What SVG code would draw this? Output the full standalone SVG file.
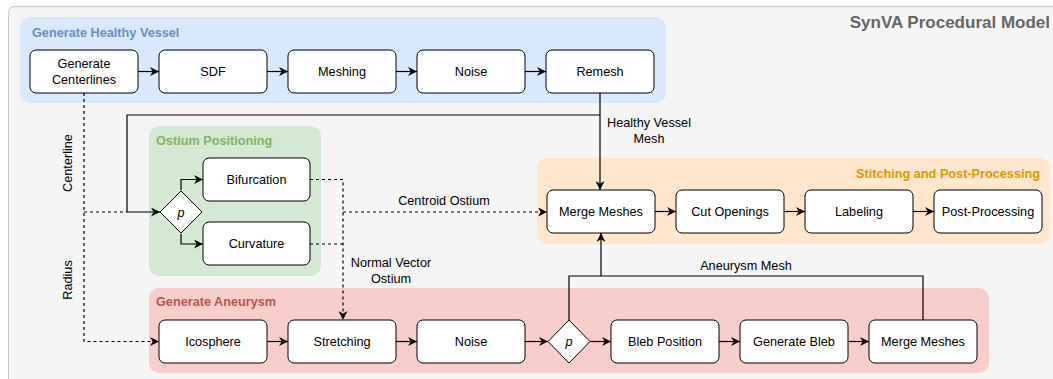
<svg xmlns="http://www.w3.org/2000/svg" width="1053" height="379" viewBox="0 0 1053 379">
<style>
text{font-family:"Liberation Sans",Arial,sans-serif;font-size:12.7px;fill:#000}
.t{text-anchor:middle}
.gt{font-weight:bold}
.n{fill:#fff;stroke:#000;stroke-width:1}
.c{fill:none;stroke:#000;stroke-width:1.2}
.d{stroke-dasharray:3,3}
</style>
<defs>
<marker id="a" viewBox="0 0 10 10" refX="10" refY="5" markerWidth="9" markerHeight="9" markerUnits="userSpaceOnUse" orient="auto">
<path d="M0,0 L10,5 L0,10 L3,5 Z" fill="#000"/>
</marker>
</defs>
<rect x="8.5" y="6.5" width="1060" height="390" rx="6" fill="#f5f5f5" stroke="#c8c8c8"/>
<text x="1050" y="28" style="font-size:17px;font-weight:bold;fill:#666;text-anchor:end">SynVA Procedural Model</text>

<g id="grp-healthy">
<rect x="20" y="17" width="646" height="86" rx="10" fill="#dae8fc"/>
<text class="gt" x="32" y="37" style="fill:#6c8ebf">Generate Healthy Vessel</text>
</g>
<g id="grp-ostium">
<rect x="149" y="126" width="172" height="150" rx="10" fill="#d5e8d4"/>
<text class="gt" x="156" y="145" style="fill:#82b366">Ostium Positioning</text>
</g>
<g id="grp-stitch">
<rect x="537" y="158" width="513" height="86" rx="10" fill="#ffe6cc"/>
<text class="gt" x="1040" y="178" style="fill:#d79b00;text-anchor:end">Stitching and Post-Processing</text>
</g>
<g id="grp-aneurysm">
<rect x="149" y="288" width="840" height="85" rx="10" fill="#f8cecc"/>
<text class="gt" x="156" y="306" style="fill:#b85450">Generate Aneurysm</text>
</g>

<g id="connectors">
<path class="c" d="M138,71.5 H159" marker-end="url(#a)"/>
<path class="c" d="M267,71.5 H288" marker-end="url(#a)"/>
<path class="c" d="M396,71.5 H417" marker-end="url(#a)"/>
<path class="c" d="M525,71.5 H546" marker-end="url(#a)"/>
<path class="c" d="M600,93 V190" marker-end="url(#a)"/>
<path class="c" d="M600,115 H127 V212 H160" marker-end="url(#a)"/>
<path class="c d" d="M84,93 V341.5 H159" marker-end="url(#a)"/>
<path class="c d" d="M84,212 H127"/>
<path class="c" d="M181,190 V179.5 H203" marker-end="url(#a)"/>
<path class="c" d="M181,234 V244 H203" marker-end="url(#a)"/>
<path class="c d" d="M310,179.5 H343 V320" marker-end="url(#a)"/>
<path class="c d" d="M310,244 H343"/>
<path class="c d" d="M343,212 H547" marker-end="url(#a)"/>
<path class="c" d="M655,211.5 H676" marker-end="url(#a)"/>
<path class="c" d="M784,211.5 H805" marker-end="url(#a)"/>
<path class="c" d="M913,211.5 H934" marker-end="url(#a)"/>
<path class="c" d="M267,341.5 H288" marker-end="url(#a)"/>
<path class="c" d="M396,341.5 H417" marker-end="url(#a)"/>
<path class="c" d="M525,341.5 H548" marker-end="url(#a)"/>
<path class="c" d="M590,341.5 H611" marker-end="url(#a)"/>
<path class="c" d="M719,341.5 H740" marker-end="url(#a)"/>
<path class="c" d="M848,341.5 H869" marker-end="url(#a)"/>
<path class="c" d="M569,320 V276 H923 V320"/>
<path class="c" d="M601,276 V233" marker-end="url(#a)"/>
<text x="67" y="163" class="t" transform="rotate(-90 67 163)" dy="4.5">Centerline</text>
<text x="67" y="280" class="t" transform="rotate(-90 67 280)" dy="4.5">Radius</text>
<text x="649" y="127" class="t">Healthy Vessel</text>
<text x="649" y="143" class="t">Mesh</text>
<text x="444" y="205" class="t">Centroid Ostium</text>
<text x="391" y="267" class="t">Normal Vector</text>
<text x="391" y="283" class="t">Ostium</text>
<text x="746" y="270" class="t">Aneurysm Mesh</text>
</g>

<g id="n-centerlines"><rect class="n" x="30" y="50" width="108" height="43" rx="6"/><text class="t" x="84" y="67.5">Generate</text><text class="t" x="84" y="83.5">Centerlines</text></g>
<g id="n-sdf"><rect class="n" x="159" y="50" width="108" height="43" rx="6"/><text class="t" x="213" y="76">SDF</text></g>
<g id="n-meshing"><rect class="n" x="288" y="50" width="108" height="43" rx="6"/><text class="t" x="342" y="76">Meshing</text></g>
<g id="n-noise1"><rect class="n" x="417" y="50" width="108" height="43" rx="6"/><text class="t" x="471" y="76">Noise</text></g>
<g id="n-remesh"><rect class="n" x="546" y="50" width="108" height="43" rx="6"/><text class="t" x="600" y="76">Remesh</text></g>

<g id="n-p1"><path class="n" d="M181,191 L202,212 L181,233 L160,212 Z"/><text class="t" x="181" y="216.5" style="font-style:italic">p</text></g>
<g id="n-bifurcation"><rect class="n" x="203" y="158" width="107" height="43" rx="6"/><text class="t" x="256.5" y="184">Bifurcation</text></g>
<g id="n-curvature"><rect class="n" x="203" y="222" width="107" height="43" rx="6"/><text class="t" x="256.5" y="248">Curvature</text></g>

<g id="n-merge1"><rect class="n" x="547" y="190" width="108" height="43" rx="6"/><text class="t" x="601" y="216">Merge Meshes</text></g>
<g id="n-cut"><rect class="n" x="676" y="190" width="108" height="43" rx="6"/><text class="t" x="730" y="216">Cut Openings</text></g>
<g id="n-label"><rect class="n" x="805" y="190" width="108" height="43" rx="6"/><text class="t" x="859" y="216">Labeling</text></g>
<g id="n-post"><rect class="n" x="934" y="190" width="108" height="43" rx="6"/><text class="t" x="988" y="216">Post-Processing</text></g>

<g id="n-ico"><rect class="n" x="159" y="320" width="108" height="43" rx="6"/><text class="t" x="213" y="346">Icosphere</text></g>
<g id="n-stretch"><rect class="n" x="288" y="320" width="108" height="43" rx="6"/><text class="t" x="342" y="346">Stretching</text></g>
<g id="n-noise2"><rect class="n" x="417" y="320" width="108" height="43" rx="6"/><text class="t" x="471" y="346">Noise</text></g>
<g id="n-p2"><path class="n" d="M569,320 L590,341.5 L569,363 L548,341.5 Z"/><text class="t" x="569" y="346" style="font-style:italic">p</text></g>
<g id="n-blebpos"><rect class="n" x="611" y="320" width="108" height="43" rx="6"/><text class="t" x="665" y="346">Bleb Position</text></g>
<g id="n-genbleb"><rect class="n" x="740" y="320" width="108" height="43" rx="6"/><text class="t" x="794" y="346">Generate Bleb</text></g>
<g id="n-merge2"><rect class="n" x="869" y="320" width="108" height="43" rx="6"/><text class="t" x="923" y="346">Merge Meshes</text></g>
</svg>
